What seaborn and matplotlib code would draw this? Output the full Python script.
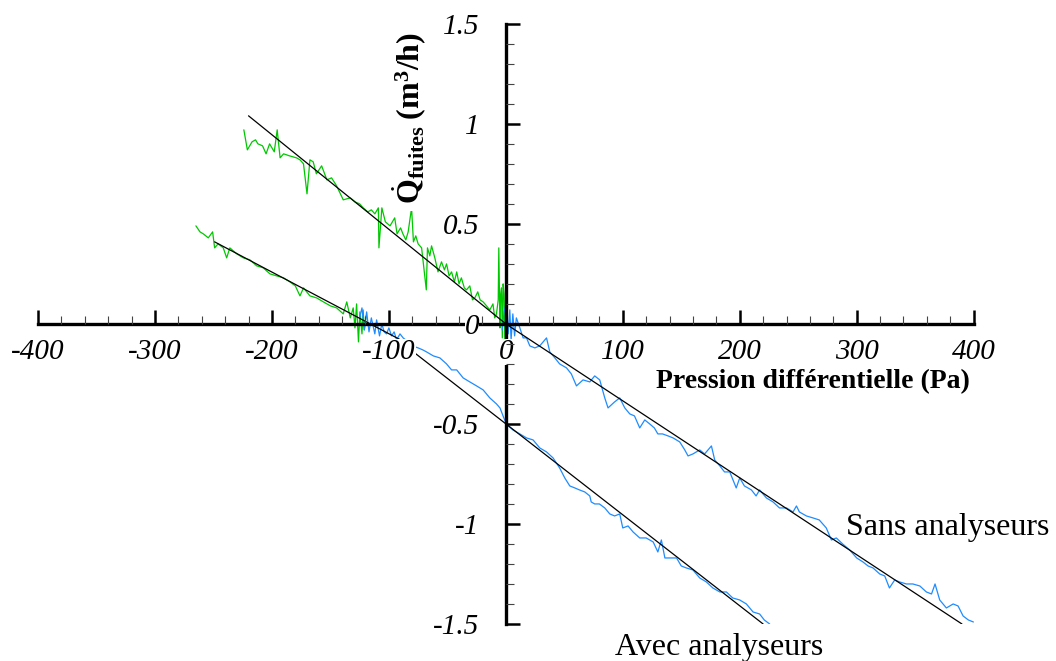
import numpy as np
import pandas as pd
import matplotlib
matplotlib.use("Agg")
import matplotlib.pyplot as plt
import seaborn as sns

# green: negative pressure, blue: positive pressure
sans_neg_dp = [-224, -221, -217, -214, -212, -208, -205, -202, -198, -195.5, -193, -190, -185, -179,
               -176, -173, -170, -167.5, -164.7, -162, -157.5, -153, -149, -144.7, -139, -133, -129,
               -125, -122, -118, -115, -112, -109, -108.5, -106, -103, -99, -95, -93, -90, -88, -85.5,
               -83.5, -80.6, -79, -77, -75, -72, -68, -67, -65, -63.5, -60.7, -58, -55, -52.5, -50.7,
               -48.5, -46.4, -44, -42, -40, -38, -35.5, -33.6, -30.8, -28.5, -26.5, -24, -22, -19.4,
               -16.5, -13.7, -11, -9.5, -8, -6.5, -6, -5, -4.5, -3.7, -3, -2.3, -1.5, -0.8, 0]
sans_neg_q = [0.97, 0.87, 0.91, 0.92, 0.90, 0.89, 0.85, 0.90, 0.86, 0.97, 0.83, 0.85, 0.84, 0.83,
              0.82, 0.80, 0.65, 0.82, 0.81, 0.75, 0.79, 0.72, 0.73, 0.69, 0.62, 0.63, 0.61,
              0.60, 0.58, 0.56, 0.57, 0.55, 0.58, 0.38, 0.58, 0.51, 0.49, 0.53, 0.45, 0.48, 0.45, 0.42,
              0.46, 0.58, 0.41, 0.44, 0.40, 0.38, 0.17, 0.38, 0.34, 0.39, 0.33, 0.26, 0.31, 0.27, 0.30,
              0.24, 0.26, 0.21, 0.26, 0.20, 0.23, 0.18, 0.17, 0.19, 0.12, 0.13, 0.16, 0.12, 0.11,
              0.09, 0.07, 0.10, 0.03, 0.05, 0.12, 0.38, -0.02, 0.14, 0.18, -0.07, 0.20, 0.15, -0.08, 0.02]

sans_pos_dp = [-3, -1.5, 0.5, 2, 3.4, 4.5, 6, 7.5, 9, 12, 14.8, 17.7, 20.5, 24.8, 29, 34.8, 37.6,
               41.9, 46, 51.9, 56, 60.4, 66, 71.8, 76, 80.3, 84.6, 87.4, 93, 97.4, 101.7, 106, 110,
               114.5, 118.8, 123, 127, 130, 134, 138.7, 143, 148.7, 153, 155.8, 160, 165.8, 170,
               175.8, 178.6, 183, 187, 191.5, 197, 200, 204, 210, 214, 217, 222.8, 228.5, 234, 240,
               245.6, 248.5, 251, 257, 262.7, 268, 274, 278.4, 282.6, 288, 294, 300, 305.4, 309.7,
               314, 319.7, 324, 328, 332.5, 336.8, 342.5, 348, 354, 359.6, 364, 367, 371, 376.7,
               382.5, 386.7, 391, 395.5, 399.8]
sans_pos_q = [-0.03, 0.06, 0.11, -0.05, 0.07, -0.08, 0.05, -0.06, 0.03, -0.02, -0.07, -0.07, -0.11,
              -0.12, -0.11, -0.07, -0.14, -0.17, -0.20, -0.22, -0.25, -0.31, -0.28, -0.29, -0.26,
              -0.28, -0.37, -0.42, -0.39, -0.37, -0.42, -0.45, -0.46, -0.52, -0.48, -0.50, -0.52,
              -0.55, -0.55, -0.56, -0.57, -0.59, -0.63, -0.66, -0.65, -0.63, -0.65, -0.61, -0.68,
              -0.71, -0.74, -0.74, -0.82, -0.77, -0.81, -0.83, -0.86, -0.83, -0.87, -0.89, -0.92,
              -0.92, -0.94, -0.91, -0.94, -0.96, -0.97, -0.98, -1.02, -1.08, -1.07, -1.10, -1.13,
              -1.17, -1.19, -1.21, -1.22, -1.25, -1.26, -1.32, -1.28, -1.29, -1.30, -1.30, -1.31,
              -1.34, -1.35, -1.30, -1.38, -1.42, -1.40, -1.41, -1.46, -1.48, -1.49]

avec_neg_dp = [-265, -261.5, -258.7, -254.4, -250.7, -249, -246, -241.6, -238.7, -236, -230,
               -224.5, -218.8, -213, -207.4, -201.7, -196, -190, -184.6, -180, -176, -173, -167.5,
               -161.8, -156, -150, -144.7, -139, -136, -133, -130.5, -129, -127.6, -126, -124.8,
               -123, -122, -121, -119.5]
avec_neg_q = [0.49, 0.46, 0.45, 0.43, 0.46, 0.38, 0.40, 0.38, 0.33, 0.38, 0.35,
              0.33, 0.32, 0.29, 0.28, 0.25, 0.24, 0.23, 0.21, 0.19, 0.14, 0.18, 0.14,
              0.13, 0.11, 0.09, 0.08, 0.05, 0.11, 0.03, 0.08, -0.02, 0.10, -0.09, 0.06,
              -0.05, 0.07, -0.03, 0.04]

avec_pos_dp = [-125, -123, -121, -119, -117, -115, -112, -110.5, -108, -106, -104, -102, -100,
               -97.7, -95.5, -93.4, -90.5, -87.8, -83.5, -80, -75, -71, -67.8, -62, -56.4, -50.7,
               -46.4, -42, -36.5, -30.8, -25, -19.4, -13.7, -8, -5, -1.7, 0.5, 6, 12, 17.7, 23.3,
               29, 34.8, 40.4, 46, 50.4, 54.7, 59, 63, 67.5, 71.8, 73, 76, 80, 84.6, 88.9, 93,
               97.4, 100, 104.5, 108.8, 114.5, 120, 126, 130, 133, 136, 141.6, 146, 150, 154.4,
               160, 165.8, 171.5, 177, 183, 188.6, 194, 200, 205.7, 211.4, 217, 221, 225.6]
avec_pos_q = [0.03, 0.08, -0.03, 0.06, -0.04, 0.03, -0.05, 0.02, -0.06, 0.0, -0.04, -0.05, -0.02,
              -0.06, -0.04, -0.08, -0.05, -0.07, -0.09, -0.11, -0.12, -0.13, -0.14, -0.16, -0.17,
              -0.20, -0.23, -0.23, -0.27, -0.29, -0.31, -0.33, -0.37, -0.40, -0.42, -0.47, -0.50,
              -0.53, -0.55, -0.57, -0.58, -0.62, -0.64, -0.67, -0.72, -0.77, -0.81, -0.82, -0.83,
              -0.84, -0.86, -0.89, -0.90, -0.90, -0.92, -0.95, -0.96, -0.95, -1.02, -1.01, -1.04,
              -1.07, -1.07, -1.09, -1.14, -1.08, -1.17, -1.17, -1.17, -1.21, -1.22, -1.23, -1.27,
              -1.29, -1.32, -1.34, -1.34, -1.37, -1.38, -1.40, -1.44, -1.45, -1.48, -1.50]

# black fit lines
sans_fit_dp = [-220, 0, 390]
sans_fit_q = [1.04, 0.0, -1.50]
avec_fit_neg_dp = [-249, -89]
avec_fit_neg_q = [0.41, -0.083]
avec_fit_pos_dp = [-85, 220]
avec_fit_pos_q = [-0.113, -1.50]

x_ticks = [-400, -300, -200, -100, 0, 100, 200, 300, 400]
y_ticks = [-1.5, -1, -0.5, 0, 0.5, 1, 1.5]
y_tick_labels = ["-1.5", "-1", "-0.5", "0", "0.5", "1", "1.5"]

sns.set_style("white")
plt.rcParams["font.family"] = ["Liberation Serif", "DejaVu Serif"]
plt.rcParams["axes.unicode_minus"] = False
plt.rcParams["mathtext.fontset"] = "custom"
plt.rcParams["mathtext.rm"] = "Liberation Serif"
plt.rcParams["mathtext.bf"] = "Liberation Serif:bold"
plt.rcParams["mathtext.it"] = "Liberation Serif:italic"
plt.rcParams["text.color"] = "black"
plt.rcParams["axes.edgecolor"] = "black"
plt.rcParams["xtick.color"] = "black"
plt.rcParams["ytick.color"] = "black"

green = "#00c800"
blue = "#1e8cff"

fig = plt.figure(figsize=(10.56, 6.61), dpi=100)
ax = fig.add_axes([0.036, 0.056, 0.886, 0.908])

sns.lineplot(x=sans_neg_dp, y=sans_neg_q, sort=False, estimator=None, color=green, lw=0.9, ax=ax)
sns.lineplot(x=avec_neg_dp, y=avec_neg_q, sort=False, estimator=None, color=green, lw=0.9, ax=ax)
sns.lineplot(x=sans_pos_dp, y=sans_pos_q, sort=False, estimator=None, color=blue, lw=0.9, ax=ax)
sns.lineplot(x=avec_pos_dp, y=avec_pos_q, sort=False, estimator=None, color=blue, lw=0.9, ax=ax)

for fx, fy in [(sans_fit_dp, sans_fit_q), (avec_fit_neg_dp, avec_fit_neg_q),
               (avec_fit_pos_dp, avec_fit_pos_q)]:
    ax.plot(fx, fy, color="black", lw=0.9, zorder=2.2)

ax.set_xlim(-400, 400)
ax.set_ylim(-1.5, 1.5)
ax.set_axisbelow(False)
ax.spines["left"].set_position(("data", 0))
ax.spines["bottom"].set_position(("data", 0))
ax.spines["right"].set_visible(False)
ax.spines["top"].set_visible(False)
for s in ["left", "bottom"]:
    ax.spines[s].set_linewidth(2.4)
    ax.spines[s].set_color("black")

ax.set_xticks(x_ticks, [str(t) for t in x_ticks])
ax.set_yticks(y_ticks, y_tick_labels)
ax.set_xticks(np.arange(-400, 401, 20), minor=True)
ax.set_yticks(np.arange(-1.5, 1.51, 0.1), minor=True)
ax.tick_params(axis="both", which="both", bottom=True, left=True, top=False, right=False)
ax.tick_params(axis="both", which="major", direction="in", length=10, width=1.8,
               labelsize=21, color="black")
ax.tick_params(axis="both", which="minor", direction="in", length=5.5, width=0.8, color="#444444")
ax.tick_params(axis="x", which="major", pad=11)
ax.tick_params(axis="y", which="major", pad=19)
for lbl in ax.get_xticklabels() + ax.get_yticklabels():
    lbl.set_fontstyle("italic")
    lbl.set_bbox(dict(facecolor="white", edgecolor="none", pad=0))

ax.set_xlabel("")
ax.set_ylabel("")
ax.text(263, -0.29, "Pression différentielle (Pa)", fontsize=20, fontweight="bold",
        ha="center", va="center")
ax.text(-82, 1.03, r"$\dot{\mathbf{Q}}_{\mathbf{fuites}}\;\mathbf{(m^3/h)}$", fontsize=23,
        rotation=90, ha="center", va="center", zorder=3,
        bbox=dict(facecolor="white", edgecolor="none", pad=5))
ax.text(378, -1.016, "Sans analyseurs", fontsize=23, ha="center", va="center", clip_on=False)
ax.text(182, -1.616, "Avec analyseurs", fontsize=23, ha="center", va="center", clip_on=False)

fig.savefig("out.png", dpi=100)
